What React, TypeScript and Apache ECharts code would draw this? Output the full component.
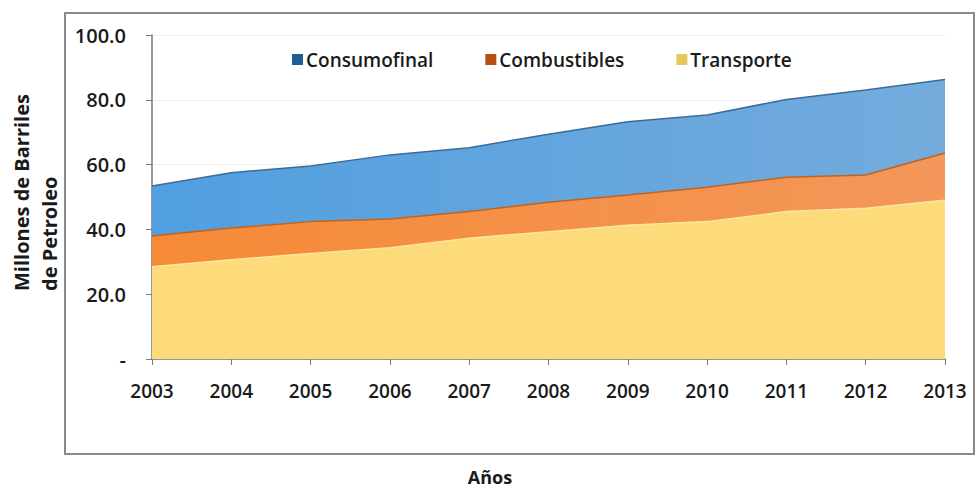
import React, { useEffect, useRef } from "react";
import * as echarts from "echarts";

const years = ["2003", "2004", "2005", "2006", "2007", "2008", "2009", "2010", "2011", "2012", "2013"];
const transporte = [28.5, 30.6, 32.6, 34.3, 37.3, 39.3, 41.3, 42.4, 45.5, 46.5, 49.0];
const combustibles = [9.5, 9.8, 9.8, 8.9, 8.2, 9.1, 9.3, 10.6, 10.6, 10.3, 14.6];
const consumofinal = [15.4, 17.1, 17.2, 19.8, 19.7, 21.0, 22.6, 22.3, 24.0, 26.2, 22.7];
const yTicks = [0, 20, 40, 60, 80, 100];

const FONT = "'Open Sans', 'DejaVu Sans', sans-serif";

export default function App() {
  const ref = useRef<HTMLDivElement>(null);
  useEffect(() => {
    document.body.style.margin = "0";
    if (!ref.current) return;
    const chart = echarts.init(ref.current, null, { renderer: "svg" });
    const hGrad = (a: string, b: string) =>
      new echarts.graphic.LinearGradient(0, 0, 1, 0, [
        { offset: 0, color: a },
        { offset: 1, color: b },
      ]);
    chart.setOption({
      animation: false,
      backgroundColor: "#ffffff",
      textStyle: { fontFamily: FONT },
      graphic: [
        {
          type: "rect",
          shape: { x: 65, y: 13, width: 909, height: 441 },
          style: { fill: "none", stroke: "#8a8a8a", lineWidth: 2 },
          silent: true,
          z: -1,
        },
        {
          type: "text",
          x: 7,
          y: 291,
          rotation: Math.PI / 2,
          style: {
            text: "Millones de Barriles\nde Petroleo",
            fill: "#1a1a1a",
            font: `bold 20px ${FONT}`,
            align: "left",
            verticalAlign: "top",
            lineHeight: 28,
          },
        },
        {
          type: "text",
          x: 490,
          y: 477,
          style: {
            text: "Años",
            fill: "#1a1a1a",
            font: `bold 18px ${FONT}`,
            align: "center",
            verticalAlign: "middle",
          },
        },
      ],
      legend: {
        left: 287,
        top: 45,
        itemWidth: 11,
        itemHeight: 11,
        itemGap: 52,
        icon: "rect",
        textStyle: { fontFamily: FONT, fontSize: 19, fontWeight: 600, color: "#1a1a1a", padding: [0, 0, 0, -2] },
        data: [
          { name: "Consumofinal", itemStyle: { color: "#1f5d98" } },
          { name: "Combustibles", itemStyle: { color: "#b84f12" } },
          { name: "Transporte", itemStyle: { color: "#e6c75c" } },
        ],
      },
      grid: { left: 152, right: 31, top: 35, bottom: 133 },
      xAxis: {
        type: "category",
        data: years,
        boundaryGap: false,
        axisLine: { lineStyle: { color: "#7a7a7a", width: 1.5 } },
        axisTick: { show: true, length: 6, alignWithLabel: true, lineStyle: { color: "#7a7a7a" } },
        axisLabel: { margin: 22, fontFamily: FONT, fontSize: 19, fontWeight: 600, color: "#1a1a1a" },
      },
      yAxis: {
        type: "value",
        min: yTicks[0],
        max: yTicks[yTicks.length - 1],
        interval: 20,
        axisLine: { show: true, lineStyle: { color: "#7a7a7a", width: 1.5 } },
        axisTick: { show: true, length: 6, lineStyle: { color: "#7a7a7a" } },
        splitLine: { show: true, lineStyle: { color: "#f0f0f0" } },
        axisLabel: {
          margin: 26,
          fontFamily: FONT,
          fontSize: 20,
          fontWeight: 600,
          color: "#1a1a1a",
          formatter: (v: number) => (v === 0 ? "-" : v.toFixed(1)),
        },
      },
      series: [
        {
          name: "Transporte",
          type: "line",
          stack: "total",
          data: transporte,
          symbol: "none",
          itemStyle: { color: "#e6c75c" },
          lineStyle: { color: "#fbe89c", width: 1.5 },
          areaStyle: { color: "#fdda7a", opacity: 1 },
          z: 3,
        },
        {
          name: "Combustibles",
          type: "line",
          stack: "total",
          data: combustibles,
          symbol: "none",
          itemStyle: { color: "#b84f12" },
          lineStyle: { color: "#c0631f", width: 1.5 },
          areaStyle: { color: hGrad("#f68a36", "#f3975a"), opacity: 1 },
          z: 2,
        },
        {
          name: "Consumofinal",
          type: "line",
          stack: "total",
          data: consumofinal,
          symbol: "none",
          itemStyle: { color: "#1f5d98" },
          lineStyle: { color: "#3b6c99", width: 1.5 },
          areaStyle: { color: hGrad("#519fe0", "#74abdc"), opacity: 1 },
          z: 1,
        },
      ],
    });
    return () => chart.dispose();
  }, []);
  return <div ref={ref} style={{ width: 976, height: 492 }} />;
}
